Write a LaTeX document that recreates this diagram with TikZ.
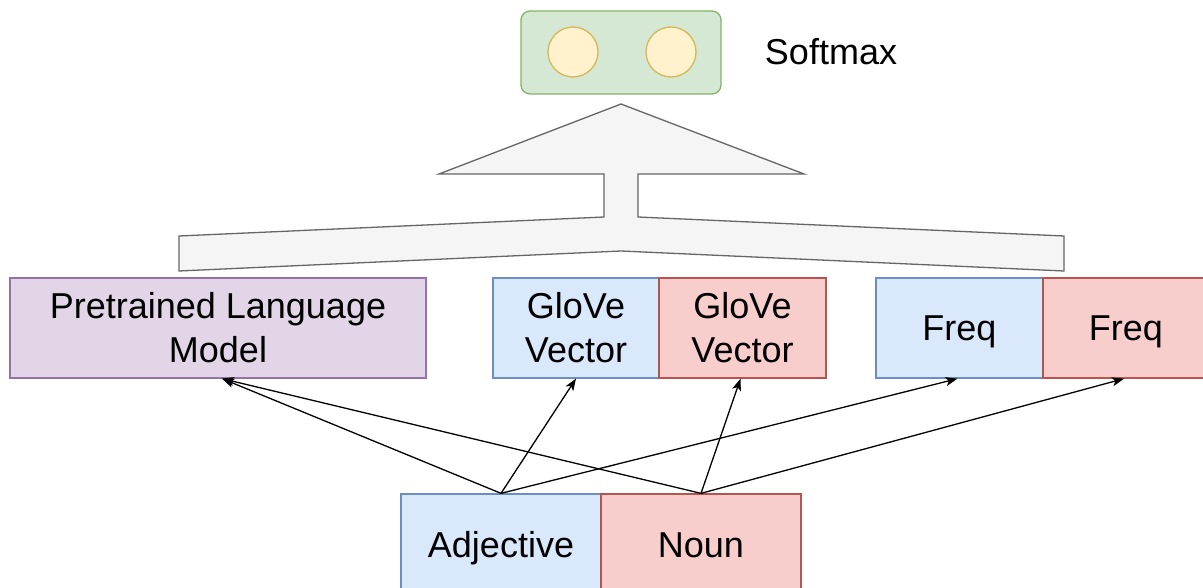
\documentclass[tikz,border=0pt]{standalone}
\usepackage{fontspec}
\setmainfont{Liberation Sans}
\usetikzlibrary{arrows.meta}
\definecolor{purpF}{HTML}{E1D5E7}\definecolor{purpD}{HTML}{9673A6}
\definecolor{blueF}{HTML}{DAE8FC}\definecolor{blueD}{HTML}{6C8EBF}
\definecolor{redF}{HTML}{F8CECC}\definecolor{redD}{HTML}{B85450}
\definecolor{greenF}{HTML}{D5E8D4}\definecolor{greenD}{HTML}{82B366}
\definecolor{yelF}{HTML}{FFF2CC}\definecolor{yelD}{HTML}{D6B656}
\definecolor{greyF}{HTML}{F5F5F5}\definecolor{greyD}{HTML}{666666}
\tikzset{
  box/.style={draw, line width=1.3pt, minimum height=100pt, inner sep=0pt, align=center,
    font=\fontsize{36}{44}\selectfont},
  oneline/.style={text height=30pt, text depth=4pt},
  purplebox/.style={box, fill=purpF, draw=purpD},
  bluebox/.style={box, fill=blueF, draw=blueD},
  redbox/.style={box, fill=redF, draw=redD},
  unit/.style={circle, draw=yelD, fill=yelF, line width=1.3pt, minimum size=50pt, inner sep=0pt},
  conn/.style={line width=1.3pt, -{Stealth[length=12pt,width=9pt,inset=3pt]}},
}
\begin{document}
\begin{tikzpicture}[x=1pt,y=-1pt]
\useasboundingbox (0,0) rectangle (1203,588);
% softmax
\node[draw=greenD, fill=greenF, line width=1.3pt, rounded corners=9pt, minimum width=200pt, minimum height=83pt] (soft) at (621,52.5) {};
\node[unit] (u1) at (573,52) {};
\node[unit] (u2) at (671,52) {};
\node[font=\fontsize{36}{44}\selectfont, oneline, inner sep=0pt] (softlbl) at (831,52) {Softmax};
% merge arrow shape
\draw[fill=greyF, draw=greyD, line width=1.3pt, line join=miter]
  (621,104) -- (804,174) -- (638,174) -- (638,217) -- (1064,236) -- (1064,271)
  -- (621,251) -- (179,271) -- (179,236) -- (604,217) -- (604,174) -- (439,174) -- cycle;
% feature boxes
\node[purplebox, minimum width=416pt] (plm) at (218,328) {Pretrained Language\\Model};
\node[bluebox, minimum width=166pt] (glb) at (576,328) {GloVe\\Vector};
\node[redbox, minimum width=167pt] (glr) at (742.5,328) {GloVe\\Vector};
\node[bluebox, oneline, minimum width=167pt] (fb) at (959.5,328) {Freq};
\node[redbox, oneline, minimum width=166pt] (fr) at (1126,328) {Freq};
% inputs
\node[bluebox, oneline, minimum width=200pt] (adj) at (501,544) {Adjective};
\node[redbox, oneline, minimum width=200pt] (noun) at (701,544) {Noun};
% connectors
\draw[conn] (adj.north) -- ([xshift=4pt]plm.south);
\draw[conn] (adj.north) -- (glb.south);
\draw[conn] (adj.north) -- ([xshift=-2pt]fb.south);
\draw[conn] (noun.north) -- ([xshift=4pt]plm.south);
\draw[conn] (noun.north) -- ([xshift=-2pt]glr.south);
\draw[conn] (noun.north) -- ([xshift=-2pt]fr.south);
\end{tikzpicture}
\end{document}
